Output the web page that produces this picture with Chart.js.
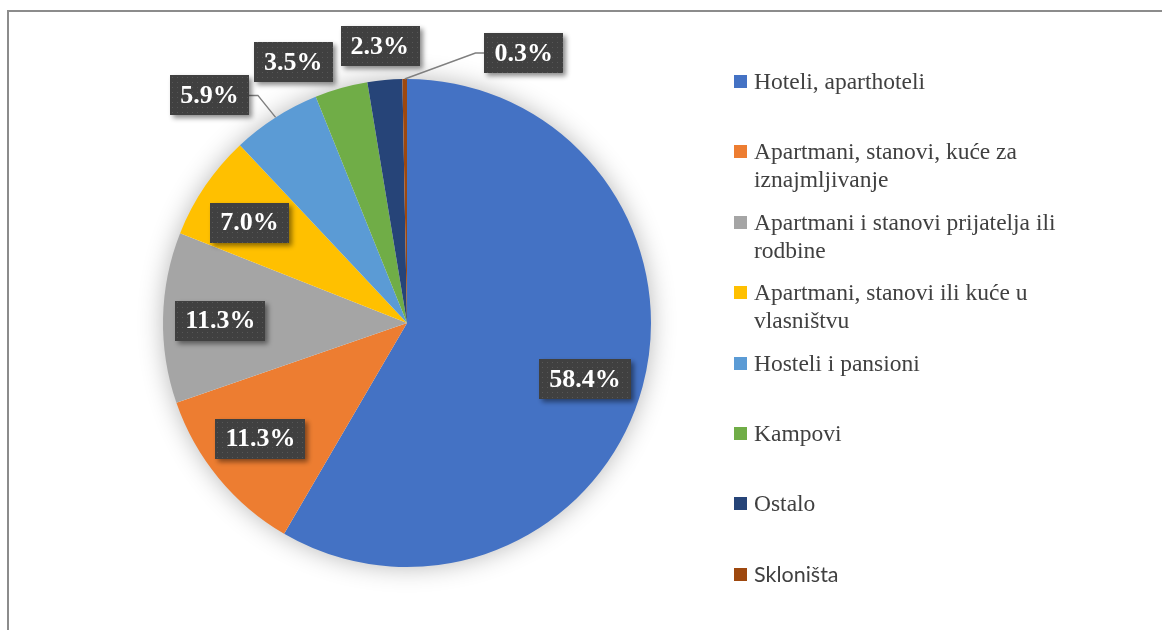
<!DOCTYPE html>
<html>
<head>
<meta charset="utf-8">
<script src="https://cdn.jsdelivr.net/npm/chart.js@4"></script>
<style>
    body { margin: 0; background: #fff; }
    #wrap { position: relative; width: 1162px; height: 630px; overflow: hidden; }
    #legend { position: absolute; left: 0; top: 0; }
    .item { position: absolute; left: 734px; width: 380px; font: 23.5px "Liberation Serif", "Times New Roman", serif; line-height: 28px; color: #404040; }
    .item .box { position: absolute; left: 0; top: 8px; width: 13px; height: 13px; }
    .item .txt { margin-left: 20px; width: 335px; }
    .item.sans { font-family: Lato, "Open Sans", sans-serif; font-size: 21.5px; }
</style>
</head>
<body>
<div id="wrap">
    <canvas id="pieChart" width="1162" height="630"></canvas>
    <div id="legend"></div>
</div>
<script>
// Data
const categories = [
    'Hoteli, aparthoteli',
    'Apartmani, stanovi, kuće za iznajmljivanje',
    'Apartmani i stanovi prijatelja ili rodbine',
    'Apartmani, stanovi ili kuće u vlasništvu',
    'Hosteli i pansioni',
    'Kampovi',
    'Ostalo',
    'Skloništa'
];
const shares = [58.4, 11.3, 11.3, 7.0, 5.9, 3.5, 2.3, 0.3];

const colors = [
    '#4472C4', // Hoteli - blue
    '#ED7D31', // Apartmani za iznajmljivanje - orange
    '#A5A5A5', // prijatelji/rodbina - gray
    '#FFC000', // vlasništvo - yellow
    '#5B9BD5', // Hosteli - light blue
    '#70AD47', // Kampovi - green
    '#264478', // Ostalo - dark blue
    '#9E480E'  // Skloništa - rust
];

// dotted dark fill for the data labels
function makePattern() {
    const c = document.createElement('canvas');
    c.width = 5; c.height = 5;
    const g = c.getContext('2d');
    g.fillStyle = '#404040';
    g.fillRect(0, 0, 5, 5);
    g.fillStyle = '#575757';
    g.fillRect(2, 2, 1, 1);
    return g.createPattern(c, 'repeat');
}

// frame + soft shadow under the pie
const backdrop = {
    id: 'backdrop',
    beforeDatasetsDraw(chart) {
        const ctx = chart.ctx;
        const arc = chart.getDatasetMeta(0).data[0];
        if (!arc) return;
        const { x, y, outerRadius } = arc.getProps(['x', 'y', 'outerRadius'], true);
        ctx.save();
        ctx.strokeStyle = '#8c8c8c';
        ctx.lineWidth = 2;
        ctx.beginPath();
        ctx.moveTo(8, 640);
        ctx.lineTo(8, 11);
        ctx.lineTo(1170, 11);
        ctx.stroke();

        ctx.shadowColor = 'rgba(0,0,0,0.3)';
        ctx.shadowBlur = 26;
        ctx.fillStyle = '#fff';
        ctx.beginPath();
        ctx.arc(x, y, outerRadius - 1, 0, Math.PI * 2);
        ctx.fill();
        ctx.restore();
    }
};

// data labels: inside for big slices, outside (with optional leader) for small ones
const boxLabels = {
    id: 'boxLabels',
    afterDatasetsDraw(chart, args, opts) {
        const ctx = chart.ctx;
        const pattern = makePattern();
        const meta = chart.getDatasetMeta(0);
        ctx.save();
        ctx.font = 'bold 26px "Liberation Serif", "Times New Roman", serif';
        ctx.textAlign = 'center';
        ctx.textBaseline = 'middle';

        meta.data.forEach((arc, i) => {
            const p = arc.getProps(['x', 'y', 'startAngle', 'endAngle', 'outerRadius'], true);
            const mid = (p.startAngle + p.endAngle) / 2 + (opts.turn[i] || 0);
            const text = shares[i].toFixed(1) + '%';
            const w = ctx.measureText(text).width + 20;
            const h = 40;
            let cx, cy;
            const out = opts.outside[i];
            const em = (p.startAngle + p.endAngle) / 2;
            const ex = p.x + Math.cos(em) * p.outerRadius;
            const ey = p.y + Math.sin(em) * p.outerRadius;
            if (out) {
                cx = ex + out[0];
                cy = ey + out[1];
                if (out[2]) {
                    // leader line
                    const side = cx < ex ? 1 : -1;
                    const bx = cx + side * w / 2;
                    ctx.strokeStyle = '#7f7f7f';
                    ctx.lineWidth = 1.5;
                    ctx.beginPath();
                    ctx.moveTo(ex, ey);
                    ctx.lineTo(bx + side * 9, cy);
                    ctx.lineTo(bx, cy);
                    ctx.stroke();
                }
            } else {
                cx = p.x + Math.cos(mid) * p.outerRadius * opts.inside;
                cy = p.y + Math.sin(mid) * p.outerRadius * opts.inside;
            }

            ctx.save();
            ctx.shadowColor = 'rgba(0,0,0,0.45)';
            ctx.shadowBlur = 5;
            ctx.shadowOffsetX = 3;
            ctx.shadowOffsetY = 3;
            ctx.fillStyle = pattern;
            ctx.fillRect(Math.round(cx - w / 2), Math.round(cy - h / 2), Math.round(w), h);
            ctx.restore();

            ctx.fillStyle = '#ffffff';
            ctx.fillText(text, cx, cy + 1);
        });
        ctx.restore();
    }
};

new Chart(document.getElementById('pieChart').getContext('2d'), {
    type: 'pie',
    data: {
        labels: categories,
        datasets: [{
            data: shares,
            backgroundColor: colors,
            borderWidth: 0
        }]
    },
    options: {
        responsive: false,
        animation: false,
        layout: {
            padding: { left: 163, top: 79, right: 511, bottom: 63 }
        },
        plugins: {
            legend: { display: false },
            tooltip: { enabled: false },
            boxLabels: {
                inside: 0.765,
                turn: { 0: 0.04, 1: 0.02, 2: -0.01, 3: -0.03 },
                outside: {
                    4: [-66, -22, true],
                    5: [-48, -26, false],
                    6: [-5, -34, false],
                    7: [119, -26, true]
                }
            }
        }
    },
    plugins: [backdrop, boxLabels]
});

// HTML legend on the right
const legendEl = document.getElementById('legend');
categories.forEach((name, i) => {
    const item = document.createElement('div');
    item.className = 'item' + (i === categories.length - 1 ? ' sans' : '');
    item.style.top = (67 + i * 70.4) + 'px';
    item.innerHTML = '<div class="box" style="background:' + colors[i] + '"></div><div class="txt"></div>';
    item.querySelector('.txt').textContent = name;
    legendEl.appendChild(item);
});
</script>
</body>
</html>
